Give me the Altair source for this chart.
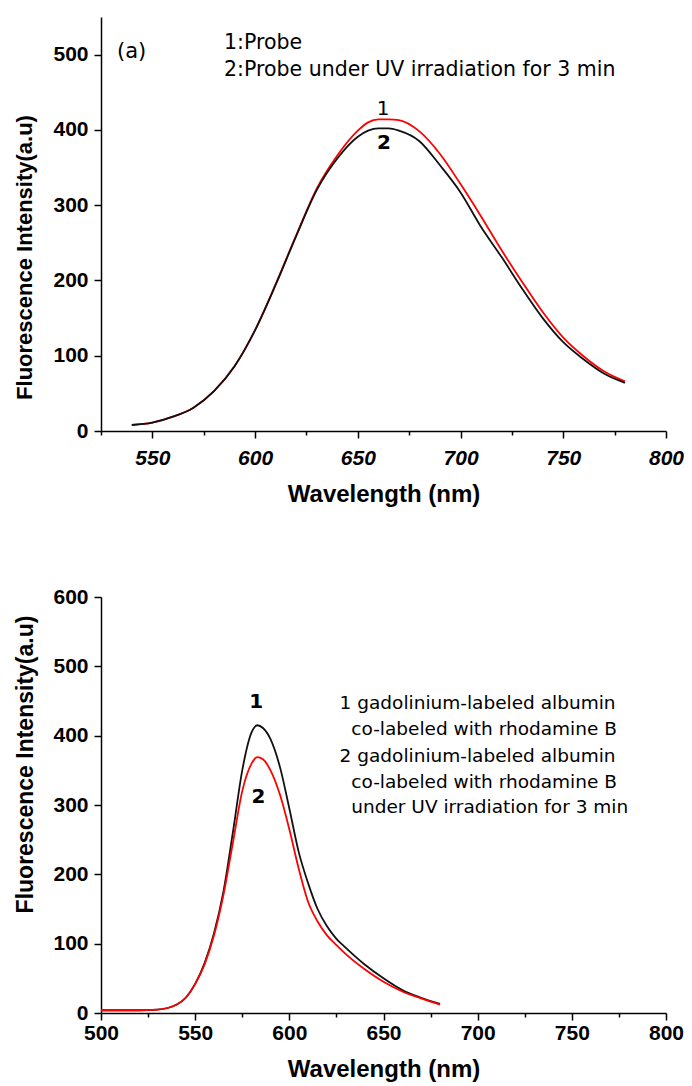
import altair as alt
import pandas as pd

# ---------------- Panel (a): probe ----------------
a_wavelength = [540, 550, 560, 570, 580, 590, 600, 610, 620, 630, 640, 650, 655, 660,
                665, 670, 680, 690, 700, 710, 720, 730, 740, 750, 760, 770, 780]
a_probe = [8, 11, 19, 31, 53, 86, 134, 195, 260, 322, 366, 399, 410, 414,
           414, 413, 398, 368, 328, 285, 240, 198, 158, 124, 99, 79, 66]
a_probe_uv = [8, 11, 19, 31, 53, 86, 134, 194, 259, 320, 362, 391, 399, 402,
              402, 399, 385, 353, 317, 271, 231, 189, 150, 118, 95, 76, 64]

# ---------------- Panel (b): albumin ----------------
b_wavelength = [500, 510, 520, 530, 540, 545, 550, 555, 560, 565, 570, 575, 580, 583,
                586, 590, 595, 600, 605, 610, 615, 620, 625, 630, 640, 650, 660, 670, 680]
b_albumin = [4, 4, 4, 5, 12, 22, 42, 72, 115, 175, 260, 350, 405, 415,
             411, 395, 355, 295, 232, 187, 150, 125, 107, 94, 70, 50, 33, 22, 13]
b_albumin_uv = [4, 4, 4, 5, 12, 22, 42, 70, 112, 170, 245, 320, 360, 369,
                366, 350, 315, 265, 208, 160, 132, 112, 98, 85, 63, 45, 31, 21, 12]

# annotation texts
a_legend = ["1:Probe", "2:Probe under UV irradiation for 3 min"]
b_legend = ["1 gadolinium-labeled albumin", "co-labeled with rhodamine B",
            "2 gadolinium-labeled albumin", "co-labeled with rhodamine B",
            "under UV irradiation for 3 min"]

AX_FONT = "Liberation Sans"
TXT_FONT = "DejaVu Sans"

df_a = pd.DataFrame({
    "wavelength": a_wavelength * 2,
    "intensity": a_probe + a_probe_uv,
    "series": ["a1"] * len(a_wavelength) + ["a2"] * len(a_wavelength),
})
df_b = pd.DataFrame({
    "wavelength": b_wavelength * 2,
    "intensity": b_albumin + b_albumin_uv,
    "series": ["b1"] * len(b_wavelength) + ["b2"] * len(b_wavelength),
})


def axis(values, major, italic=False, tick=7, minor=4, label_pad=6, title_pad=16,
         title_size=22, title_y=None):
    kw = dict(
        values=values,
        labelExpr=f"datum.value % {major} === 0 ? datum.label : ''",
        tickSize={"condition": {"test": f"datum.value % {major} === 0", "value": tick}, "value": minor},
        tickColor="black", tickWidth=1.5,
        domainColor="black", domainWidth=1.5,
        labelFont=AX_FONT, labelFontSize=21, labelFontWeight="bold", labelColor="black",
        labelPadding=label_pad, labelFlush=False, labelOverlap=False,
        titleFont=AX_FONT, titleFontSize=title_size, titleFontWeight="bold", titleColor="black",
        titlePadding=title_pad, grid=False,
    )
    if title_y is not None:
        kw["titleY"] = title_y
    if italic:
        kw["labelFontStyle"] = "italic"
    return alt.Axis(**kw)


def panel(df, xdom, ydom, xvals, yvals, domain_s, colors, italic_x, xlab_pad,
          ytitle_size, ytitle_pad, ytitle_y):
    return alt.Chart(df).mark_line(strokeWidth=1.8, interpolate="monotone").encode(
        x=alt.X("wavelength:Q", title="Wavelength (nm)",
                scale=alt.Scale(domain=xdom, nice=False, zero=False),
                axis=axis(xvals, 50, italic=italic_x, label_pad=xlab_pad,
                          title_pad=14, title_size=24)),
        y=alt.Y("intensity:Q", title="Fluorescence Intensity(a.u)",
                scale=alt.Scale(domain=ydom, nice=False),
                axis=axis(yvals, 100, title_size=ytitle_size, title_pad=ytitle_pad,
                          title_y=ytitle_y)),
        color=alt.Color("series:N", scale=alt.Scale(domain=domain_s, range=colors), legend=None),
        detail="series:N",
    )


def text_layer(rows, size, weight="normal", align="left"):
    d = pd.DataFrame(rows, columns=["x", "y", "t"])
    return alt.Chart(d).mark_text(font=TXT_FONT, fontSize=size, fontWeight=weight, align=align,
                                  baseline="alphabetic", color="black").encode(
        x="x:Q", y="y:Q", text="t:N")


top_lines = panel(df_a, [525, 800], [0, 550], list(range(525, 801, 25)), list(range(0, 551, 50)),
                  ["a1", "a2"], ["#ff0000", "#111111"], True, 9, 22, 16.5, 240)
top = alt.layer(
    top_lines,
    text_layer([(532.8, 496, "(a)")], 21),
    text_layer([(584.9, 508, a_legend[0]), (584.9, 471, a_legend[1])], 20.5),
    text_layer([(662.3, 420, "1")], 20, align="center"),
    text_layer([(662.7, 375, "2")], 20, weight="bold", align="center"),
).properties(width=565, height=414)

bot_lines = panel(df_b, [500, 800], [0, 600], list(range(500, 801, 25)), list(range(0, 601, 50)),
                  ["b1", "b2"], ["#111111", "#ff0000"], False, 2, 23, 15.5, 167)
bottom = alt.layer(
    bot_lines,
    text_layer([(582.4, 440, "1")], 20, weight="bold", align="center"),
    text_layer([(583.6, 303, "2")], 20, weight="bold", align="center"),
    text_layer([(626.7, 438, b_legend[0]), (632.9, 401, b_legend[1]),
                (626.7, 362, b_legend[2]), (632.9, 324.5, b_legend[3]),
                (632.9, 289, b_legend[4])], 18.5),
).properties(width=565, height=416)

chart = alt.concat(top, bottom, columns=1, spacing=80, align="none").properties(
    padding={"left": 5, "top": 9, "right": 0, "bottom": 3}
).resolve_scale(color="independent").configure_view(stroke=None)

chart.save("out.html", embed_options={"renderer": "svg", "actions": False})
